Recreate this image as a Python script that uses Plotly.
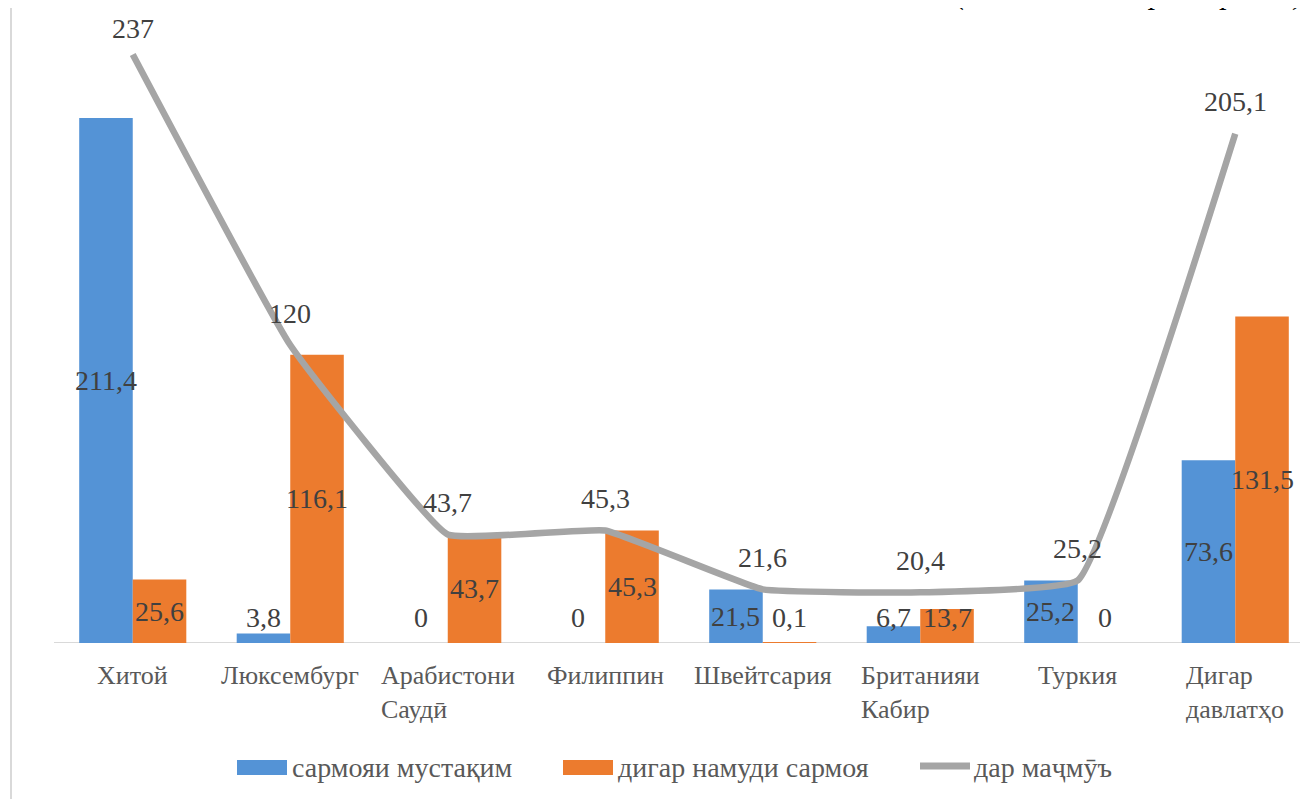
import plotly.graph_objects as go

# ---- data ----
categories = ["Хитой", "Люксембург", "Арабистони<br>Саудӣ", "Филиппин",
              "Швейтсария", "Британияи<br>Кабир", "Туркия", "Дигар<br>давлатҳо"]
direct_inv = [211.4, 3.8, 0, 0, 21.5, 6.7, 25.2, 73.6]
other_inv = [25.6, 116.1, 43.7, 45.3, 0.1, 13.7, 0, 131.5]
total_inv = [237, 120, 43.7, 45.3, 21.6, 20.4, 25.2, 205.1]
series_names = ["сармояи мустақим", "дигар намуди сармоя", "дар маҷмӯъ"]
unit_note = "(миллион доллари амрикоӣ)"

# ---- geometry / style ----
OFF = 8                      # page (body) margin in the browser
W, H = 1300, 791
ML, MR, MT = 46, 0, 12
BASE = 643 - OFF             # figure pixel of the zero line
MB = H - BASE
PW, PH = W - ML - MR, H - MT - MB
SLOT = 157.5
PXU = 2.483                  # pixels per unit
XMAX = -0.5 + PW / SLOT
YMAX = PH / PXU
FONT = "Liberation Serif"
BLUE, ORANGE, GRAY = "#5493d6", "#ec7b2e", "#a5a5a5"
LBL, CAT = "#404040", "#595959"
BW = 0.34


def fmt(v):
    return str(int(v)) if float(v).is_integer() else str(v).replace(".", ",")


def px_x(s):
    return (s - OFF - ML) / PW


def px_y(s):
    return (BASE - (s - OFF)) / PH


idx = list(range(len(categories)))

fig = go.Figure()
fig.add_trace(go.Bar(x=idx, y=direct_inv, name=series_names[0], marker_color=BLUE,
                     marker_line_width=0, showlegend=False, hoverinfo="skip"))
fig.add_trace(go.Bar(x=idx, y=other_inv, name=series_names[1], marker_color=ORANGE,
                     marker_line_width=0, showlegend=False, hoverinfo="skip"))
fig.add_trace(go.Scatter(x=idx, y=total_inv, name=series_names[2], mode="lines",
                         line=dict(color=GRAY, width=6.5, shape="spline", smoothing=0.3),
                         showlegend=False, hoverinfo="skip", cliponaxis=False))

ann = []
min_mid = 26 / PXU
max_top = (BASE - (28 - OFF)) / PXU
for i in idx:
    for vals, off in ((direct_inv, -BW / 2), (other_inv, BW / 2)):
        v = vals[i]
        ann.append(dict(x=i + off, y=max(v / 2, min_mid), xref="x", yref="y",
                        text=fmt(v), showarrow=False,
                        font=dict(family=FONT, size=28, color=LBL)))
    ann.append(dict(x=i, y=min(total_inv[i] + 32 / PXU, max_top), xref="x", yref="y",
                    text=fmt(total_inv[i]), showarrow=False,
                    font=dict(family=FONT, size=28, color=LBL)))
    ann.append(dict(x=i, y=0, xref="x", yref="y", yanchor="top", yshift=-16,
                    text=categories[i], showarrow=False, align="left",
                    font=dict(family=FONT, size=26, color=CAT)))

# legend (custom)
shapes = []
leg_y = 767
for (x0, color, kind) in ((237, BLUE, "rect"), (563, ORANGE, "rect"), (920, GRAY, "line")):
    if kind == "rect":
        shapes.append(dict(type="rect", xref="paper", yref="paper",
                           x0=px_x(x0), x1=px_x(x0 + 50), y0=px_y(leg_y + 8), y1=px_y(leg_y - 7),
                           fillcolor=color, line_width=0))
    else:
        shapes.append(dict(type="line", xref="paper", yref="paper",
                           x0=px_x(x0), x1=px_x(x0 + 50), y0=px_y(leg_y - 1), y1=px_y(leg_y - 1),
                           line=dict(color=color, width=7)))
for tx, name in zip((290, 616, 972), series_names):
    ann.append(dict(x=px_x(tx), y=px_y(leg_y), xref="paper", yref="paper",
                    xanchor="left", yanchor="middle", text=name, showarrow=False,
                    font=dict(family=FONT, size=28, color=CAT)))

# frame
shapes.append(dict(type="line", xref="paper", yref="paper", x0=px_x(11), x1=px_x(1320),
                   y0=px_y(7), y1=px_y(7), line=dict(color="#d9d9d9", width=2)))
shapes.append(dict(type="line", xref="paper", yref="paper", x0=px_x(11), x1=px_x(11),
                   y0=px_y(7), y1=px_y(810), line=dict(color="#d9d9d9", width=2)))
# zero line
shapes.append(dict(type="line", xref="paper", yref="y", x0=0, x1=1, y0=0, y1=0,
                   line=dict(color="#d9d9d9", width=2), layer="below"))

# cut-off unit note at top right
ann.append(dict(x=px_x(1306), y=px_y(13), xref="paper", yref="paper",
                xanchor="right", yanchor="bottom", text="<i>" + unit_note + "</i>",
                showarrow=False, font=dict(family=FONT, size=30, color="#000000")))

fig.update_layout(
    width=W, height=H,
    margin=dict(l=ML, r=MR, t=MT, b=MB, autoexpand=False),
    paper_bgcolor="white", plot_bgcolor="white",
    barmode="group", bargap=0.32, bargroupgap=0,
    xaxis=dict(range=[-0.5, XMAX], showticklabels=False, showgrid=False, zeroline=False,
               showline=False, ticks=""),
    yaxis=dict(range=[0, YMAX], visible=False, showgrid=False, zeroline=False),
    shapes=shapes,
    annotations=ann,
    showlegend=False,
    hovermode=False,
)

fig.write_html("out.html")
